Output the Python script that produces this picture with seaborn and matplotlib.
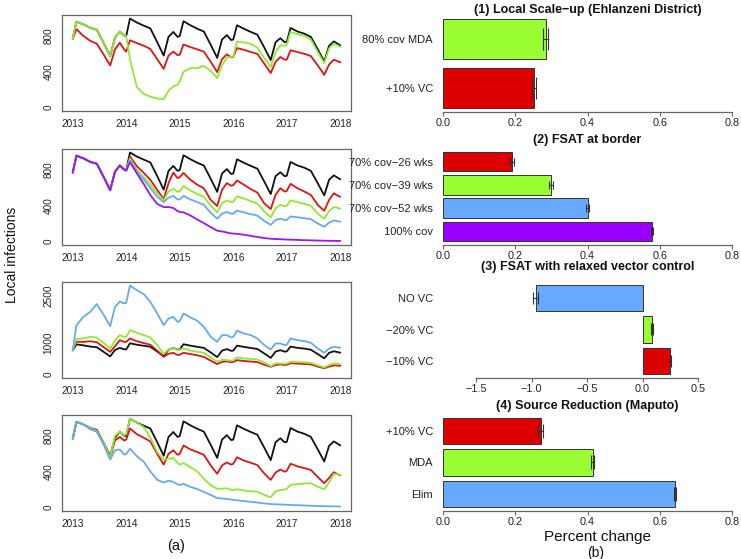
import matplotlib
matplotlib.use("Agg")
import matplotlib.pyplot as plt
import seaborn as sns
import pandas as pd
import numpy as np

# ---------------- data ----------------
T = [2013.0, 2013.07, 2013.2, 2013.33, 2013.45, 2013.58, 2013.7, 2013.79, 2013.88, 2013.96,
     2014.0, 2014.07, 2014.2, 2014.33, 2014.45, 2014.58, 2014.7, 2014.79, 2014.88, 2014.96,
     2015.0, 2015.07, 2015.2, 2015.33, 2015.45, 2015.58, 2015.7, 2015.79, 2015.88, 2015.96,
     2016.0, 2016.07, 2016.2, 2016.33, 2016.45, 2016.58, 2016.7, 2016.79, 2016.88, 2016.96,
     2017.0, 2017.07, 2017.2, 2017.33, 2017.45, 2017.58, 2017.7, 2017.79, 2017.88, 2017.96,
     2018.0]

baseline = [770, 960, 930, 890, 870, 720, 575, 780, 850, 805,
            800, 995, 950, 915, 885, 730, 580, 790, 845, 790,
            800, 965, 920, 880, 850, 700, 555, 760, 810, 755,
            760, 920, 880, 845, 815, 670, 530, 730, 775, 730,
            735, 890, 850, 825, 790, 650, 515, 690, 740, 710,
            695]

# (1) Local scale-up
p1_vc = [770, 876, 800, 745, 714, 590, 470, 650, 725, 650,
         625, 752, 720, 690, 655, 540, 432, 580, 625, 585,
         590, 705, 675, 650, 625, 510, 395, 540, 595, 560,
         565, 665, 645, 620, 600, 490, 385, 510, 565, 535,
         535, 640, 620, 600, 575, 470, 365, 480, 535, 515,
         505]
p1_mda = [770, 960, 930, 890, 870, 720, 575, 780, 850, 805,
          800, 540, 225, 150, 120, 100, 92, 188, 237, 252,
          290, 400, 440, 440, 465, 410, 330, 470, 560, 565,
          570, 738, 728, 712, 670, 550, 452, 620, 695, 690,
          700, 845, 820, 800, 760, 620, 495, 660, 715, 690,
          680]

# (2) FSAT at border
p2_26 = [770, 960, 930, 890, 870, 720, 575, 780, 850, 805,
         800, 950, 841, 766, 690, 577, 472, 653, 770, 709,
         720, 766, 690, 634, 596, 464, 396, 577, 653, 623,
         630, 683, 634, 585, 547, 426, 362, 521, 596, 558,
         565, 645, 596, 558, 521, 408, 343, 464, 540, 509,
         500]
p2_39 = [770, 960, 930, 890, 870, 720, 575, 780, 850, 805,
         800, 928, 800, 720, 640, 540, 460, 560, 590, 555,
         560, 620, 570, 530, 500, 400, 325, 430, 460, 440,
         445, 505, 480, 450, 425, 335, 270, 370, 410, 395,
         400, 460, 440, 420, 400, 310, 255, 340, 385, 375,
         365]
p2_52 = [770, 960, 930, 890, 870, 720, 575, 780, 850, 805,
         800, 905, 780, 690, 600, 500, 440, 490, 510, 470,
         470, 510, 470, 440, 410, 320, 255, 310, 330, 310,
         310, 345, 325, 305, 290, 230, 185, 240, 255, 240,
         240, 280, 270, 260, 250, 200, 165, 210, 235, 225,
         220]
p2_100 = [770, 960, 930, 890, 870, 720, 575, 780, 850, 805,
          790, 887, 760, 640, 520, 420, 385, 385, 375, 340,
          330, 325, 290, 245, 205, 160, 120, 112, 100, 90,
          88, 85, 75, 62, 50, 38, 30, 27, 25, 22,
          21, 20, 17, 14, 12, 10, 8, 7, 6, 6,
          6]

# (3) FSAT with relaxed vector control
p3_novc = [770, 1574, 1840, 2000, 2250, 1900, 1543, 2150, 2330, 2270,
           2290, 2840, 2690, 2564, 2319, 1947, 1574, 1787, 1840, 1680,
           1700, 1947, 1819, 1713, 1521, 1202, 1043, 1255, 1255, 1181,
           1200, 1394, 1309, 1255, 1149, 936, 798, 989, 989, 936,
           950, 1149, 1096, 1064, 1011, 830, 691, 830, 883, 862,
           851]
p3_m20 = [770, 1128, 1150, 1202, 1180, 1000, 830, 1080, 1255, 1200,
          1200, 1415, 1330, 1255, 1180, 936, 650, 800, 840, 780,
          790, 830, 760, 723, 690, 540, 404, 470, 457, 440,
          450, 543, 510, 495, 480, 380, 266, 350, 351, 340,
          345, 404, 395, 385, 370, 290, 223, 300, 351, 340,
          330]
p3_m10 = [770, 1043, 1040, 1060, 1030, 870, 723, 900, 1096, 1040,
          1040, 1149, 1060, 1000, 950, 760, 564, 660, 690, 620,
          630, 691, 650, 610, 560, 440, 330, 400, 420, 390,
          400, 457, 430, 410, 395, 310, 245, 300, 320, 300,
          305, 360, 345, 335, 320, 250, 200, 250, 290, 280,
          275]

# (4) Source reduction (Maputo)
p4_vc = [770, 960, 930, 880, 850, 720, 560, 750, 790, 750,
         760, 885, 820, 780, 740, 600, 480, 600, 640, 590,
         600, 694, 650, 620, 590, 470, 377, 470, 505, 480,
         490, 562, 525, 500, 475, 380, 309, 390, 425, 400,
         410, 490, 460, 440, 420, 340, 272, 330, 395, 370,
         360]
p4_mda = [770, 960, 930, 890, 860, 720, 560, 800, 850, 810,
          820, 996, 950, 900, 780, 620, 536, 545, 555, 500,
          479, 498, 450, 404, 320, 250, 208, 210, 215, 196,
          196, 204, 190, 180, 177, 140, 113, 180, 196, 200,
          208, 253, 262, 268, 272, 230, 204, 280, 375, 372,
          365]
p4_elim = [770, 960, 930, 885, 850, 700, 536, 640, 650, 592,
           600, 657, 574, 510, 404, 310, 279, 300, 285, 258,
           253, 264, 230, 205, 175, 140, 105, 100, 95, 88,
           85, 80, 72, 63, 55, 45, 38, 35, 33, 31,
           30, 28, 25, 22, 19, 16, 14, 13, 12, 11,
           10]

# bar panels
b1_labels = ["80% cov MDA", "+10% VC"]
b1_vals = [0.284, 0.252]
b1_err = [0.0065, 0.0065]

b2_labels = ["70% cov\u221226 wks", "70% cov\u221239 wks", "70% cov\u221252 wks", "100% cov"]
b2_vals = [0.191, 0.299, 0.400, 0.579]
b2_err = [0.005, 0.006, 0.005, 0.003]

b3_labels = ["NO VC", "\u221220% VC", "\u221210% VC"]
b3_vals = [-0.964, 0.085, 0.250]
b3_err = [0.02, 0.005, 0.006]

b4_labels = ["+10% VC", "MDA", "Elim"]
b4_vals = [0.271, 0.414, 0.643]
b4_err = [0.007, 0.005, 0.003]

titles = ["(1) Local Scale\u2212up (Ehlanzeni District)", "(2) FSAT at border",
          "(3) FSAT with relaxed vector control", "(4) Source Reduction (Maputo)"]

# ---------------- style ----------------
sns.set_style("white")
plt.rcParams['font.family'] = ['Liberation Sans', 'DejaVu Sans']

C_BLACK = "#111111"
L_RED, L_GREEN, L_BLUE, L_PURPLE = "#DD1515", "#8FEA35", "#66AAEE", "#9A18EE"
B_RED, B_GREEN, B_BLUE, B_PURPLE = "#DD0000", "#99FF33", "#66AAFF", "#9900FF"
GRAY = "#666666"

W, H = 741, 559
fig = plt.figure(figsize=(W / 100, H / 100), dpi=100)


def ax_px(left, top, right, bottom):
    return fig.add_axes([left / W, 1 - bottom / H, (right - left) / W, (bottom - top) / H])


# ---------------- left: time series ----------------
left_panels = [
    [(baseline, C_BLACK), (p1_vc, L_RED), (p1_mda, L_GREEN)],
    [(baseline, C_BLACK), (p2_26, L_RED), (p2_39, L_GREEN), (p2_52, L_BLUE), (p2_100, L_PURPLE)],
    [(baseline, C_BLACK), (p3_m10, L_RED), (p3_m20, L_GREEN), (p3_novc, L_BLUE)],
    [(baseline, C_BLACK), (p4_vc, L_RED), (p4_mda, L_GREEN), (p4_elim, L_BLUE)],
]
left_tops = [15, 149, 282, 415]

for i, series in enumerate(left_panels):
    ax = ax_px(62, left_tops[i], 351, left_tops[i] + 96)
    for vals, col in series:
        df = pd.DataFrame({"t": T, "v": vals})
        sns.lineplot(data=df, x="t", y="v", color=col, lw=1.3, ax=ax,
                     estimator=None, sort=False)
    hi = max(max(v) for v, _ in series)
    pad = 0.04 * hi
    ax.set_ylim(-pad, hi + pad)
    ax.set_xlim(2013 - 0.2, 2018 + 0.2)
    ax.set_xticks([2013, 2014, 2015, 2016, 2017, 2018])
    ax.set_xticklabels(["2013", "2014", "2015", "2016", "2017", "2018"])
    if i == 2:
        ax.set_yticks([0, 500, 1000, 1500, 2000, 2500])
        ax.set_yticklabels(["0", "", "1000", "", "", "2500"])
    else:
        ax.set_yticks([0, 200, 400, 600, 800, 1000])
        ax.set_yticklabels(["0", "", "400", "", "800", ""])
    ax.set_xlabel("")
    ax.set_ylabel("")
    for sp in ax.spines.values():
        sp.set_visible(True)
        sp.set_color(GRAY)
        sp.set_linewidth(0.9)
    ax.tick_params(axis='both', direction='out', length=2.6, width=0.8, color=GRAY,
                   labelsize=7.2, pad=3.5, labelcolor="#222222")
    ax.tick_params(axis='y', labelrotation=90)
    for lab in ax.get_yticklabels():
        lab.set_va('center')

# ---------------- right: bar panels ----------------
bar_sets = [
    (b1_labels, b1_vals, b1_err, [B_GREEN, B_RED], 7.9, (0, 0.8), [0.0, 0.2, 0.4, 0.6, 0.8]),
    (b2_labels, b2_vals, b2_err, [B_RED, B_GREEN, B_BLUE, B_PURPLE], 3.2, (0, 0.8), [0.0, 0.2, 0.4, 0.6, 0.8]),
    (b3_labels, b3_vals, b3_err, [B_BLUE, B_GREEN, B_RED], 4.3, (-1.8, 0.806), [-1.5, -1.0, -0.5, 0.0, 0.5]),
    (b4_labels, b4_vals, b4_err, [B_RED, B_GREEN, B_BLUE], 4.7, (0, 0.8), [0.0, 0.2, 0.4, 0.6, 0.8]),
]
right_tops = [15.4, 148.4, 281.4, 414.4]
title_y = [10.5, 139.5, 267.0, 406.0]
BW = 0.833

for i, (labels, vals, errs, cols, cap, xlim, ticks) in enumerate(bar_sets):
    ax = ax_px(443, right_tops[i], 732, right_tops[i] + 96.2)
    df = pd.DataFrame({"lab": labels, "val": vals})
    sns.barplot(data=df, x="val", y="lab", hue="lab", palette=cols, legend=False,
                orient="h", width=BW, saturation=1, edgecolor="#333333", linewidth=0.7,
                errorbar=None, ax=ax)
    ax.errorbar(vals, list(range(len(vals))), xerr=errs, fmt='none', ecolor="#333333",
                elinewidth=0.8, capsize=cap, capthick=0.8)
    n = len(labels)
    span = n - (1 - BW)
    pad = 0.04 * span
    ax.set_ylim(n - 1 + BW / 2 + pad, -BW / 2 - pad)
    ax.set_xlim(*xlim)
    ax.set_xticks(ticks)
    ax.set_xticklabels([("%.1f" % t).replace("-", "\u2212") for t in ticks])
    ax.set_xlabel("")
    ax.set_ylabel("")
    for s in ["top", "right", "left"]:
        ax.spines[s].set_visible(False)
    ax.spines["bottom"].set_visible(True)
    ax.spines["bottom"].set_color(GRAY)
    ax.spines["bottom"].set_linewidth(0.9)
    ax.spines["bottom"].set_bounds(ticks[0], ticks[-1])
    ax.tick_params(axis='x', direction='out', length=2.6, width=0.8, color=GRAY,
                   labelsize=7.8, pad=1.8, labelcolor="#222222", bottom=True)
    ax.tick_params(axis='y', length=0, pad=7.2, labelsize=8, labelcolor="#222222")
    fig.text(587.5 / W, 1 - title_y[i] / H, titles[i], ha='center', va='center',
             fontsize=9, fontweight='bold', color="#111111")

# ---------------- overall labels ----------------
fig.text(12 / W, 1 - 255 / H, "Local infections", rotation=90, ha='center', va='center',
         fontsize=10, color="#111111")
fig.text(176 / W, 1 - 546 / H, "(a)", ha='center', va='center', fontsize=10.5, color="#111111")
fig.text(597 / W, 1 - 536.5 / H, "Percent change", ha='center', va='center', fontsize=11, color="#111111")
fig.text(596 / W, 1 - 553 / H, "(b)", ha='center', va='center', fontsize=10, color="#111111")

fig.savefig("out.png", dpi=100)
